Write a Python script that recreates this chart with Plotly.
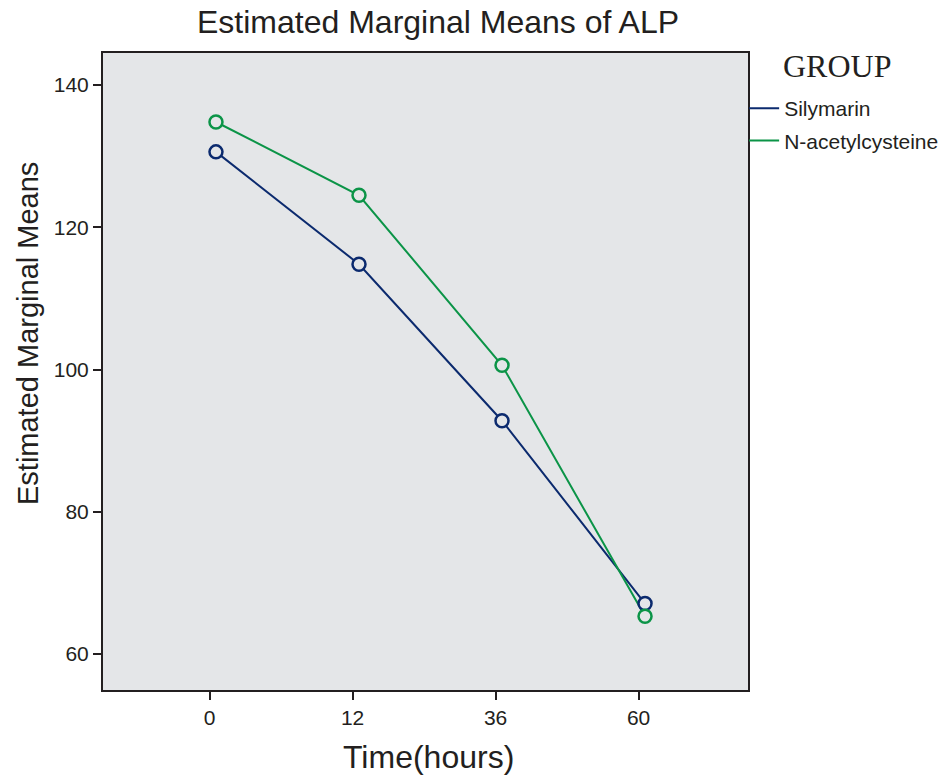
import plotly.graph_objects as go

# Data
time_labels = ["0", "12", "36", "60"]
silymarin = [130.6, 114.8, 92.8, 67.1]
nac = [134.8, 124.5, 100.6, 65.3]
groups = ["Silymarin", "N-acetylcysteine"]
colors = ["#0b2a6e", "#0b9447"]

BG = "#e4e6e8"
FONT = "Liberation Sans, Arial, sans-serif"
SERIF = "Liberation Serif, Times New Roman, serif"
INK = "#231f20"

pos = list(range(len(time_labels)))
fig = go.Figure()
for name, vals, col in zip(groups, [silymarin, nac], colors):
    fig.add_trace(go.Scatter(x=pos, y=vals, mode="lines", name=name, legendgroup=name,
                             line=dict(color=col, width=2)))
for name, vals, col in zip(groups, [silymarin, nac], colors):
    fig.add_trace(go.Scatter(x=pos, y=vals, mode="markers", name=name, showlegend=False,
                             legendgroup=name,
                             marker=dict(symbol="circle", size=13, color=BG,
                                         line=dict(color=col, width=2.5))))

axis_common = dict(showline=True, linecolor=INK, linewidth=2, mirror=True,
                   ticks="outside", ticklen=8, tickwidth=2, tickcolor=INK,
                   showgrid=False, zeroline=False,
                   tickfont=dict(family=FONT, size=21, color=INK))

fig.update_layout(
    width=944, height=776,
    margin=dict(l=103, r=196, t=53, b=86, autoexpand=False),
    paper_bgcolor="white", plot_bgcolor=BG,
    title=dict(text="Estimated Marginal Means of ALP", x=0.464, xanchor="center",
               y=0.972, yanchor="middle",
               font=dict(family=FONT, size=32, color=INK)),
    xaxis=dict(range=[-0.79, 3.72], tickmode="array",
               tickvals=[p - 0.045 for p in pos], ticktext=time_labels,
               **axis_common),
    yaxis=dict(range=[54.94, 144.5], tickmode="array", tickvals=[60, 80, 100, 120, 140],
               **axis_common),
    legend=dict(x=0.994, xanchor="left", y=0.945, yanchor="top",
                font=dict(family=FONT, size=21, color=INK),
                bgcolor="rgba(0,0,0,0)", traceorder="grouped", tracegroupgap=2,
                itemwidth=30),
    annotations=[
        dict(text="Time(hours)", xref="paper", yref="paper", x=0.5054, y=-0.1052,
             xanchor="center", yanchor="middle", showarrow=False,
             font=dict(family=FONT, size=32, color=INK)),
        dict(text="Estimated Marginal Means", xref="paper", yref="paper", x=-0.1163,
             y=0.5604, xanchor="center", yanchor="middle", textangle=-90, showarrow=False,
             font=dict(family=FONT, size=29, color=INK)),
        dict(text="GROUP", xref="paper", yref="paper", x=1.138, y=0.9796,
             xanchor="center", yanchor="middle", showarrow=False,
             font=dict(family=SERIF, size=32, color=INK)),
    ],
)

fig.write_html("out.html", config={"displayModeBar": False},
               post_script="document.body.style.margin='0';")
